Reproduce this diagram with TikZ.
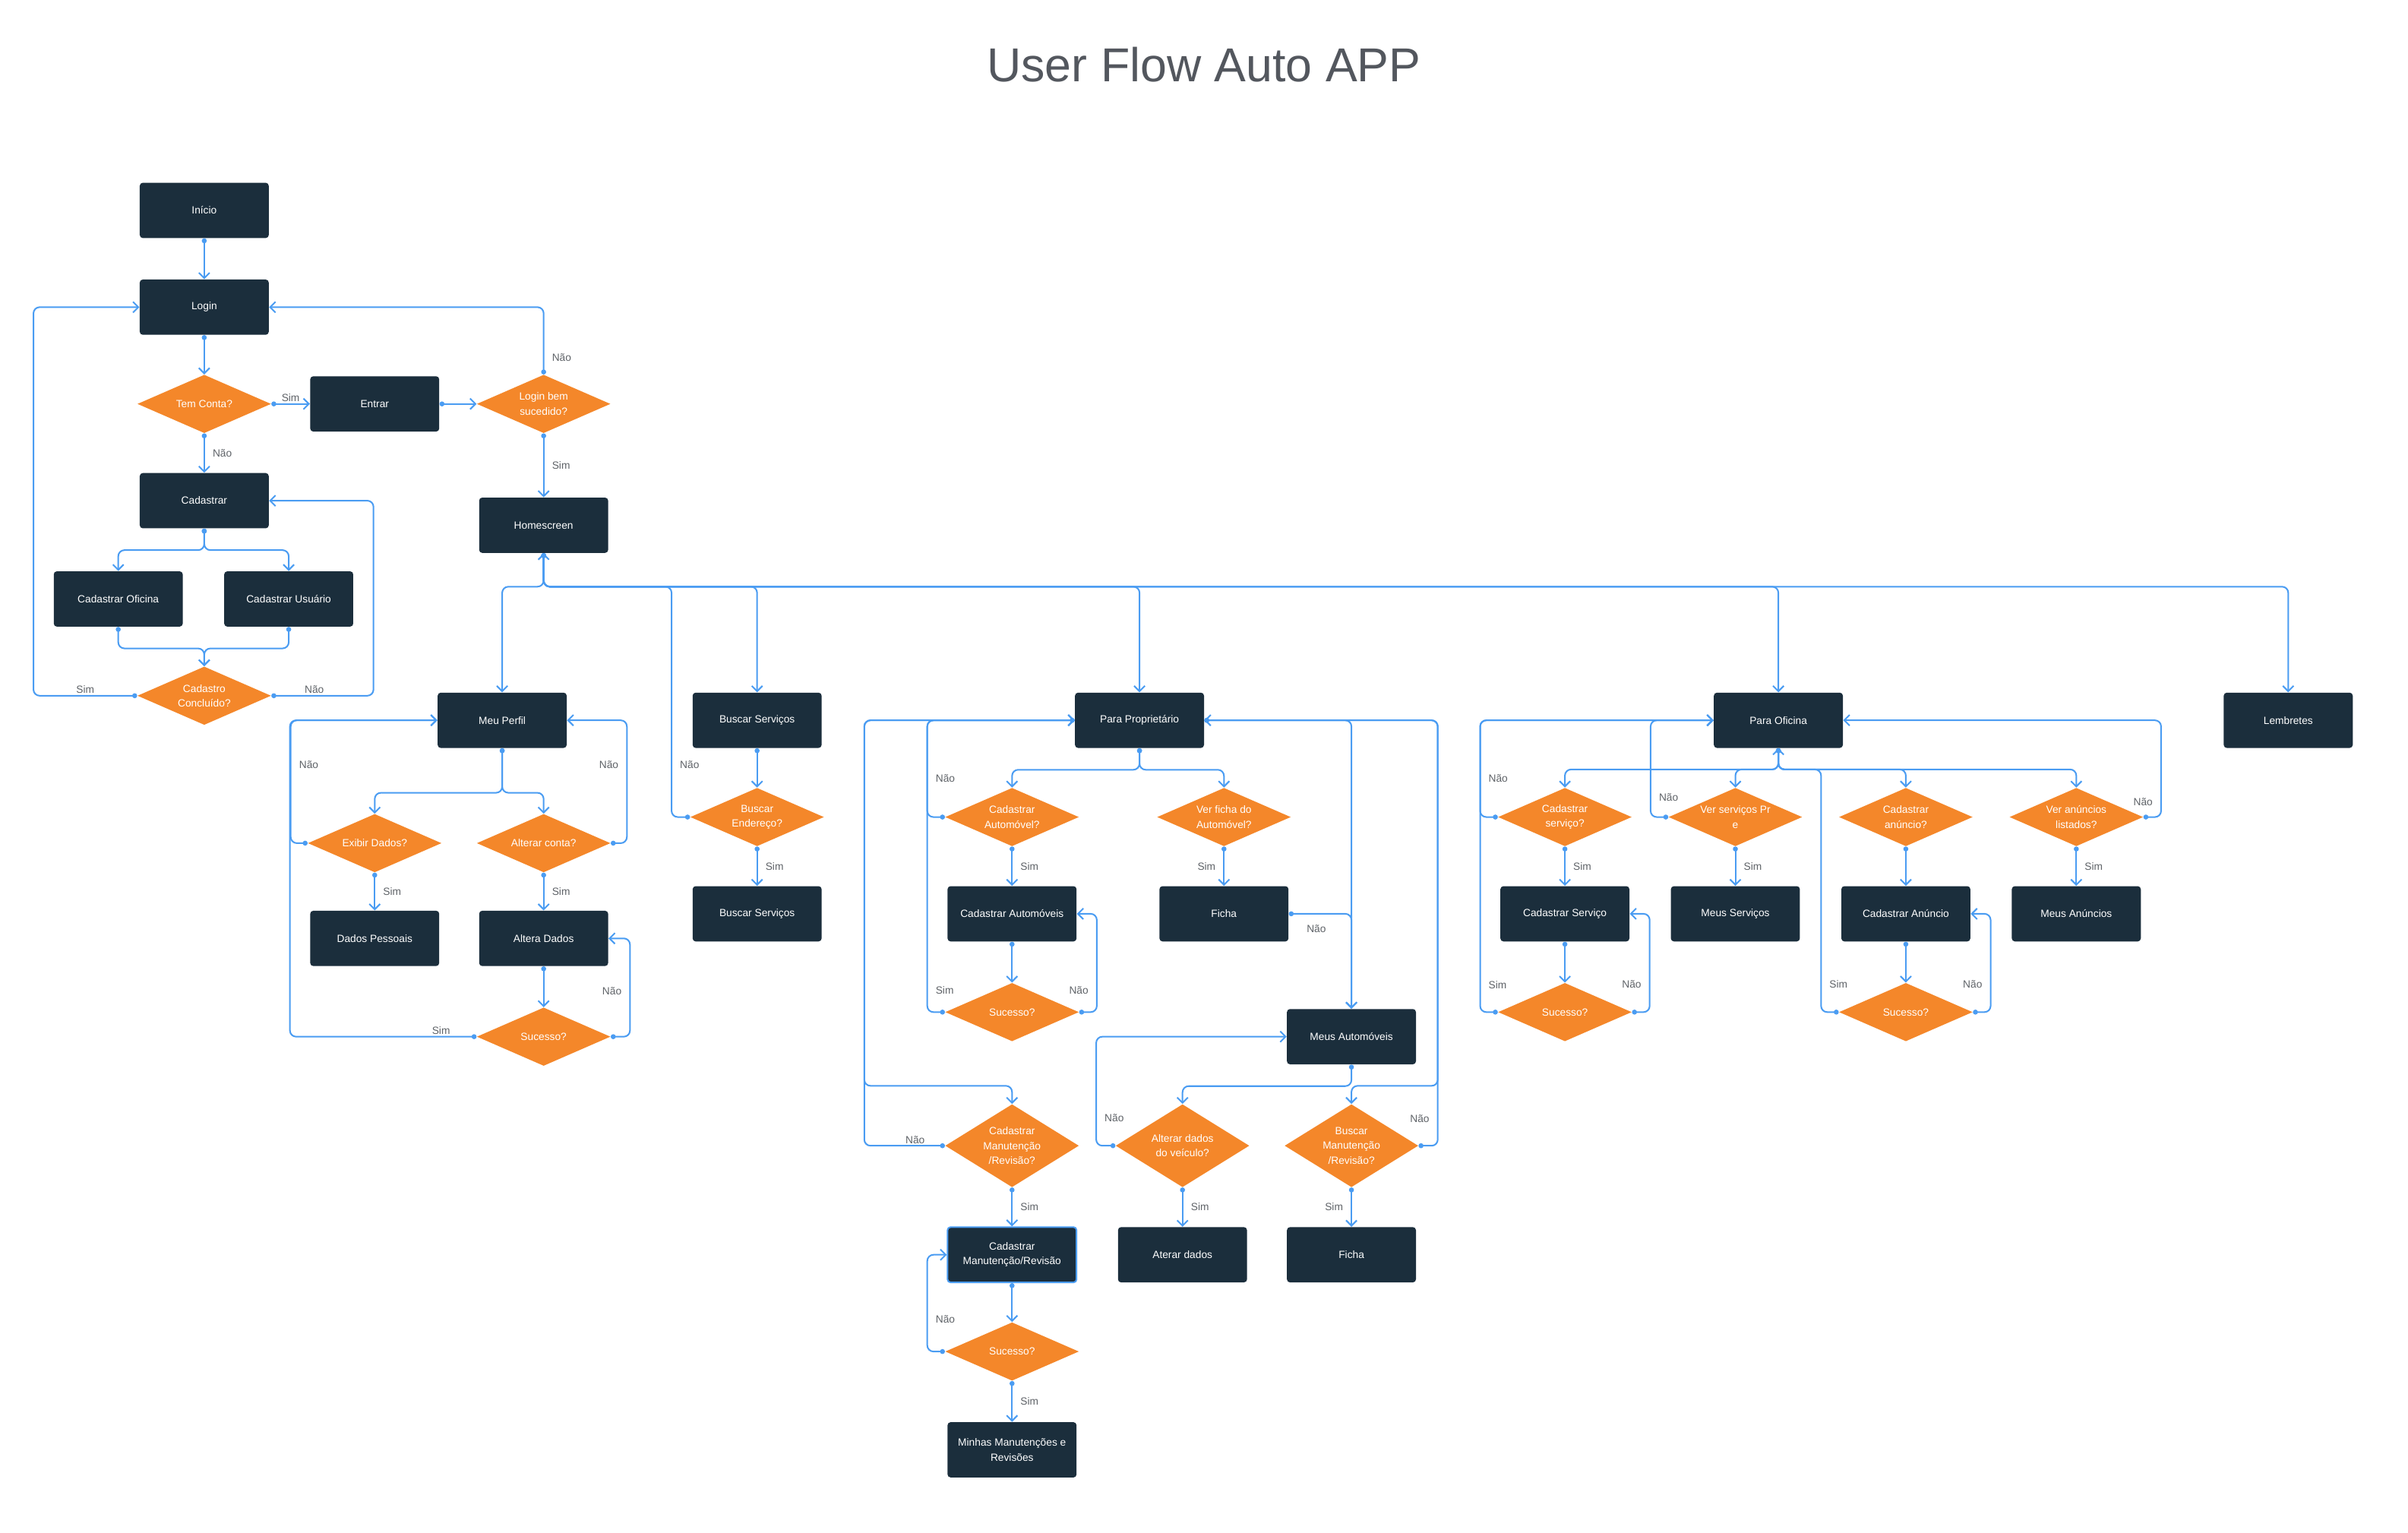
\documentclass[tikz,border=0pt]{standalone}
\usepackage{fontspec}
\setmainfont{Liberation Sans}
\usepackage{tikz}
\usetikzlibrary{arrows.meta,shapes.geometric}
\definecolor{boxbg}{HTML}{1B2E3C}
\definecolor{decision}{HTML}{F4872A}
\definecolor{flow}{HTML}{4A9CF2}
\definecolor{lblgray}{HTML}{5F6368}
\definecolor{titlegray}{HTML}{53575E}
\newcommand{\nodefont}{\fontsize{6.8}{9.6}\selectfont}
\tikzset{
  box/.style={rectangle, rounded corners=2pt, fill=boxbg, text=white, font=\nodefont, align=center, minimum width=84pt, minimum height=36pt, inner sep=2pt},
  sel/.style={box, draw=flow, line width=1pt},
  dec/.style={diamond, fill=decision, text=white, font=\nodefont, align=center, inner sep=0pt, minimum width=87pt, minimum height=38pt, aspect=2.3},
  dectall/.style={dec, minimum height=54pt, aspect=1.6},
  lbl/.style={font=\nodefont, text=lblgray, inner sep=1pt},
  arr/.style={draw=flow, line width=1pt, rounded corners=4pt, {Circle[length=3.2pt]}-{Straight Barb[length=3.5pt,width=7pt]}},
}
\begin{document}
\begin{tikzpicture}[x=1pt, y=-1pt]
    \fill[white] (0,0) rectangle (1568,998);
    \useasboundingbox (0,0) rectangle (1568,998);
    \node[font=\fontsize{31}{36}\selectfont, text=titlegray] (title) at (784,42) {User Flow Auto APP};
    % login / cadastro
    \node[box] (inicio) at (133,137) {Início};
    \node[box] (login) at (133,200) {Login};
    \node[dec] (temconta) at (133,263) {Tem Conta?};
    \node[box] (entrar) at (244,263) {Entrar};
    \node[dec] (loginok) at (354,263) {Login bem\\sucedido?};
    \node[box] (cadastrar) at (133,326) {Cadastrar};
    \node[box] (cadoficina) at (77,390) {Cadastrar Oficina};
    \node[box] (cadusuario) at (188,390) {Cadastrar Usuário};
    \node[dec] (cadok) at (133,453) {Cadastro\\Concluído?};
    \node[box] (home) at (354,342) {Homescreen};
    \coordinate (bus) at (354,382);
    % menu
    \node[box] (perfil) at (327,469) {Meu Perfil};
    \node[box] (busca) at (493,469) {Buscar Serviços};
    \node[box] (prop) at (742,469) {Para Proprietário};
    \node[box] (oficina) at (1158,469) {Para Oficina};
    \node[box] (lembretes) at (1490,469) {Lembretes};
    % meu perfil
    \node[dec] (exibir) at (244,549) {Exibir Dados?};
    \node[dec] (alterar) at (354,549) {Alterar conta?};
    \node[box] (dados) at (244,611) {Dados Pessoais};
    \node[box] (altera) at (354,611) {Altera Dados};
    \node[dec] (sucperfil) at (354,675) {Sucesso?};
    % buscar
    \node[dec] (endereco) at (493,532) {Buscar\\Endereço?};
    \node[box] (busca2) at (493,595) {Buscar Serviços};
    % proprietario
    \node[dec] (cadauto) at (659,532) {Cadastrar\\Automóvel?};
    \node[dec] (verficha) at (797,532) {Ver ficha do\\Automóvel?};
    \node[box] (autos) at (659,595) {Cadastrar Automóveis};
    \node[box] (ficha) at (797,595) {Ficha};
    \node[dec] (sucauto) at (659,659) {Sucesso?};
    \node[box] (meusautos) at (880,675) {Meus Automóveis};
    \node[dectall] (cadmanut) at (659,746) {Cadastrar\\Manutenção\\/Revisão?};
    \node[dectall] (altveic) at (770,746) {Alterar dados\\do veículo?};
    \node[dectall] (buscmanut) at (880,746) {Buscar\\Manutenção\\/Revisão?};
    \node[sel] (manut) at (659,817) {Cadastrar\\Manutenção/Revisão};
    \node[box] (aterar) at (770,817) {Aterar dados};
    \node[box] (ficha2) at (880,817) {Ficha};
    \node[dec] (sucmanut) at (659,880) {Sucesso?};
    \node[box] (minhas) at (659,944) {Minhas Manutenções e\\Revisões};
    % oficina
    \coordinate (ofbus) at (1158,501);
    \node[dec] (cadserv) at (1019,532) {Cadastrar\\serviço?};
    \node[dec] (verserv) at (1130,532) {Ver serviços Pr\\e};
    \node[dec] (cadanun) at (1241,532) {Cadastrar\\anúncio?};
    \node[dec] (veranun) at (1352,532) {Ver anúncios\\listados?};
    \node[box] (servico) at (1019,595) {Cadastrar Serviço};
    \node[box] (meusserv) at (1130,595) {Meus Serviços};
    \node[box] (anuncio) at (1241,595) {Cadastrar Anúncio};
    \node[box] (meusanun) at (1352,595) {Meus Anúncios};
    \node[dec] (sucserv) at (1019,659) {Sucesso?};
    \node[dec] (sucanun) at (1241,659) {Sucesso?};

    % connectors: login / cadastro
    \draw[arr] (inicio.south) -- (login.north);
    \draw[arr] (login.south) -- (temconta.north);
    \draw[arr] (temconta.east) -- node[lbl, above] {Sim} (entrar.west);
    \draw[arr] (temconta.south) -- node[lbl, right=4pt] {Não} (cadastrar.north);
    \draw[arr] (entrar.east) -- (loginok.west);
    \draw[arr] (loginok.north) |- node[lbl, right=4pt, pos=0.125] {Não} (login.east);
    \draw[arr] (loginok.south) -- node[lbl, right=4pt] {Sim} (home.north);
    \draw[arr] (cadastrar.south) -- ++(0,14) -| (cadoficina.north);
    \draw[arr] (cadastrar.south) -- ++(0,14) -| (cadusuario.north);
    \draw[arr] (cadoficina.south) -- ++(0,14) -| (cadok.north);
    \draw[arr] (cadusuario.south) -- ++(0,14) -| (cadok.north);
    \draw[arr] (cadok.west) -- node[lbl, above, pos=0.5] {Sim} ++(-67.5,0) |- (login.west);
    \draw[arr] (cadok.east) -- node[lbl, above, pos=0.42] {Não} ++(66.5,0) |- (cadastrar.east);
    % homescreen bus
    \foreach \dest in {perfil, busca, prop, oficina, lembretes}
      \draw[arr] (home.south) -- (bus) -| (\dest.north);
    \draw[arr] (endereco.west) -- ++(-12,0) |- node[lbl, right=4pt, pos=0.113] {Não} (bus) -- (home.south);
    % meu perfil
    \draw[arr] (perfil.south) -- ++(0,29) -| (exibir.north);
    \draw[arr] (perfil.south) -- ++(0,29) -| (alterar.north);
    \draw[arr] (exibir.south) -- node[lbl, right=4pt] {Sim} (dados.north);
    \draw[arr] (alterar.south) -- node[lbl, right=4pt] {Sim} (altera.north);
    \draw[arr] (exibir.west) -- ++(-11,0) |- node[lbl, right=4pt, pos=0.32] {Não} (perfil.west);
    \draw[arr] (alterar.east) -- ++(10.5,0) |- node[lbl, left=4pt, pos=0.32] {Não} (perfil.east);
    \draw[arr] (altera.south) -- (sucperfil.north);
    \draw[arr] (sucperfil.east) -- ++(12.5,0) |- node[lbl, left=4pt, pos=0.23] {Não} (altera.east);
    \draw[arr] (sucperfil.west) -- node[lbl, above, pos=0.19] {Sim} ++(-121.5,0) |- (perfil.west);
    % buscar servicos
    \draw[arr] (busca.south) -- (endereco.north);
    \draw[arr] (endereco.south) -- node[lbl, right=4pt] {Sim} (busca2.north);
    % para proprietario
    \draw[arr] (prop.south) -- ++(0,14) -| (cadauto.north);
    \draw[arr] (prop.south) -- ++(0,14) -| (verficha.north);
    \draw[arr] (cadauto.south) -- node[lbl, right=4pt] {Sim} (autos.north);
    \draw[arr] (verficha.south) -- node[lbl, left=4pt] {Sim} (ficha.north);
    \draw[arr] (autos.south) -- (sucauto.north);
    \draw[arr] (cadauto.west) -- ++(-11.5,0) |- node[lbl, right=4pt, pos=0.2] {Não} (prop.west);
    \draw[arr] (sucauto.east) -- ++(11.5,0) |- node[lbl, left=4pt, pos=0.11] {Não} (autos.east);
    \draw[arr] (sucauto.west) -- ++(-11.5,0) |- node[lbl, right=4pt, pos=0.037] {Sim} (prop.west);
    \draw[arr] (prop.east) -| (meusautos.north);
    \draw[arr] (ficha.east) -| node[lbl, below=6pt, pos=0.22] {Não} (meusautos.north);
    \draw[arr] (prop.west) -- ++(-137,0) -- ++(0,238) -| (cadmanut.north);
    \draw[arr] (cadmanut.west) -- node[lbl, above, pos=0.37] {Não} ++(-52.5,0) |- (prop.west);
    \draw[arr] (prop.east) -- ++(152,0) -- ++(0,238) -| (buscmanut.north);
    \draw[arr] (buscmanut.east) -- ++(12.5,0) |- node[lbl, left=4pt, pos=0.032] {Não} (prop.east);
    \draw[arr] (meusautos.south) -- ++(0,14) -| (altveic.north);
    \draw[arr] (altveic.west) -- ++(-12.5,0) |- node[lbl, right=4pt, pos=0.127] {Não} (meusautos.west);
    \draw[arr] (altveic.south) -- node[lbl, right=4pt] {Sim} (aterar.north);
    \draw[arr] (buscmanut.south) -- node[lbl, left=4pt] {Sim} (ficha2.north);
    \draw[arr] (cadmanut.south) -- node[lbl, right=4pt] {Sim} (manut.north);
    \draw[arr] (manut.south) -- (sucmanut.north);
    \draw[arr] (sucmanut.west) -- ++(-11.5,0) |- node[lbl, right=4pt, pos=0.167] {Não} (manut.west);
    \draw[arr] (sucmanut.south) -- node[lbl, right=4pt] {Sim} (minhas.north);
    % para oficina
    \foreach \dest in {cadserv, verserv, cadanun, veranun}
      \draw[arr] (oficina.south) -- (ofbus) -| (\dest.north);
    \draw[arr] (cadserv.south) -- node[lbl, right=4pt] {Sim} (servico.north);
    \draw[arr] (verserv.south) -- node[lbl, right=4pt] {Sim} (meusserv.north);
    \draw[arr] (cadanun.south) -- (anuncio.north);
    \draw[arr] (veranun.south) -- node[lbl, right=4pt] {Sim} (meusanun.north);
    \draw[arr] (servico.south) -- (sucserv.north);
    \draw[arr] (anuncio.south) -- (sucanun.north);
    \draw[arr] (cadserv.west) -- ++(-11.5,0) |- node[lbl, right=4pt, pos=0.2] {Não} (oficina.west);
    \draw[arr] (verserv.west) -- ++(-11.5,0) |- node[lbl, right=4pt, pos=0.1] {Não} (oficina.west);
    \draw[arr] (veranun.east) -- ++(11.5,0) |- node[lbl, left=4pt, pos=0.08] {Não} (oficina.east);
    \draw[arr] (sucserv.west) -- ++(-11.5,0) |- node[lbl, right=4pt, pos=0.047] {Sim} (oficina.west);
    \draw[arr] (sucserv.east) -- ++(11.5,0) |- node[lbl, left=4pt, pos=0.14] {Não} (servico.east);
    \draw[arr] (sucanun.west) -- ++(-11.5,0) |- node[lbl, right=4pt, pos=0.057] {Sim} (ofbus) -- (oficina.south);
    \draw[arr] (sucanun.east) -- ++(11.5,0) |- node[lbl, left=4pt, pos=0.14] {Não} (anuncio.east);
  \end{tikzpicture}
\end{document}
